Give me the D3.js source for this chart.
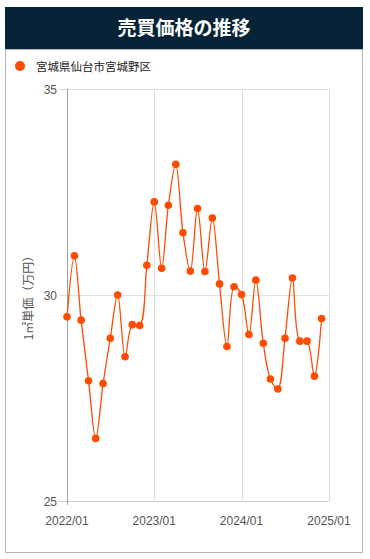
<!DOCTYPE html>
<html><head><meta charset="utf-8">
<script src="https://cdn.jsdelivr.net/npm/d3@7"></script>
<style>
html,body{margin:0;padding:0;background:#fff;}
svg{display:block;font-family:Arial,"Liberation Sans","Noto Sans CJK JP",sans-serif;}
</style></head>
<body>
<svg id="chart" width="370" height="559"></svg>
<script>
const title = "売買価格の推移";
const seriesName = "宮城県仙台市宮城野区";
const yAxisLabel = "1㎡単価（万円）";
const months = ["2022/01","2022/02","2022/03","2022/04","2022/05","2022/06","2022/07","2022/08","2022/09","2022/10","2022/11","2022/12",
"2023/01","2023/02","2023/03","2023/04","2023/05","2023/06","2023/07","2023/08","2023/09","2023/10","2023/11","2023/12",
"2024/01","2024/02","2024/03","2024/04","2024/05","2024/06","2024/07","2024/08","2024/09","2024/10","2024/11","2024/12"];
const values = [29.47,30.95,29.39,27.92,26.52,27.85,28.95,30.00,28.50,29.28,29.26,30.72,
32.26,30.65,32.18,33.17,31.51,30.58,32.10,30.57,31.87,30.27,28.75,30.20,
30.01,29.04,30.36,28.83,27.96,27.72,28.95,30.41,28.88,28.88,28.03,29.43];
const xTicks = ["2022/01","2023/01","2024/01","2025/01"];
const yTicks = [25,30,35];

const svg = d3.select("#chart");
const parse = d3.timeParse("%Y/%m");

// header
svg.append("rect").attr("x",5).attr("y",7).attr("width",358).attr("height",42).attr("fill","#062338");
svg.append("text").attr("x",184).attr("y",35).attr("text-anchor","middle")
  .attr("fill","#fff").attr("font-size",19).attr("font-weight","bold")
  .attr("font-family","'Noto Sans CJK JP',sans-serif").text(title);
// panel
svg.append("rect").attr("x",5.5).attr("y",49.5).attr("width",357).attr("height",503)
  .attr("fill","#fff").attr("stroke","#b5b5b5").attr("stroke-width",1);

// legend
svg.append("circle").attr("cx",20).attr("cy",66).attr("r",5).attr("fill","#ff4c00");
svg.append("text").attr("x",36).attr("y",70.5).attr("font-size",11.5).attr("fill","#222")
  .attr("font-family","'Noto Sans CJK JP',sans-serif").text(seriesName);

const x = d3.scaleTime().domain([parse("2022/01"),parse("2025/01")]).range([67,329]);
const y = d3.scaleLinear().domain([25,35]).range([501,89]);

const g = svg.append("g");
// gridlines
g.selectAll(".vg").data(xTicks.slice(1)).enter().append("line")
  .attr("x1",d=>Math.round(x(parse(d)))+0.5).attr("x2",d=>Math.round(x(parse(d)))+0.5)
  .attr("y1",89).attr("y2",501).attr("stroke","#e0e0e0");
g.selectAll(".hg").data(yTicks).enter().append("line")
  .attr("x1",59).attr("x2",329).attr("y1",d=>Math.round(y(d))+0.5).attr("y2",d=>Math.round(y(d))+0.5)
  .attr("stroke",d=>d===25?"#cccccc":"#e0e0e0");
// left axis line
g.append("line").attr("x1",67.5).attr("x2",67.5).attr("y1",89).attr("y2",505).attr("stroke","#a0a0a0");

// tick labels
g.selectAll(".yl").data(yTicks).enter().append("text")
  .attr("x",57).attr("y",d=>y(d)+4.5).attr("text-anchor","end")
  .attr("font-size",12).attr("fill","#555").text(d=>d);
g.selectAll(".xl").data(xTicks).enter().append("text")
  .attr("x",d=>x(parse(d))).attr("y",525).attr("text-anchor","middle")
  .attr("font-size",12).attr("fill","#555").text(d=>d);

// y axis label
svg.append("text").attr("transform","translate(33,295) rotate(-90)")
  .attr("text-anchor","middle").attr("font-size",12).attr("fill","#555")
  .attr("font-family","'Noto Sans CJK JP',sans-serif").text(yAxisLabel);

const data = months.map((m,i)=>({d:parse(m),v:values[i]}));
const line = d3.line().x(d=>x(d.d)).y(d=>y(d.v)).curve(d3.curveCatmullRom.alpha(0.5));
g.append("path").datum(data).attr("d",line).attr("fill","none").attr("stroke","#ff4c00").attr("stroke-width",1.3);
g.selectAll(".pt").data(data).enter().append("circle")
  .attr("cx",d=>x(d.d)).attr("cy",d=>y(d.v)).attr("r",3.8).attr("fill","#ff4c00");
</script>
</body></html>
